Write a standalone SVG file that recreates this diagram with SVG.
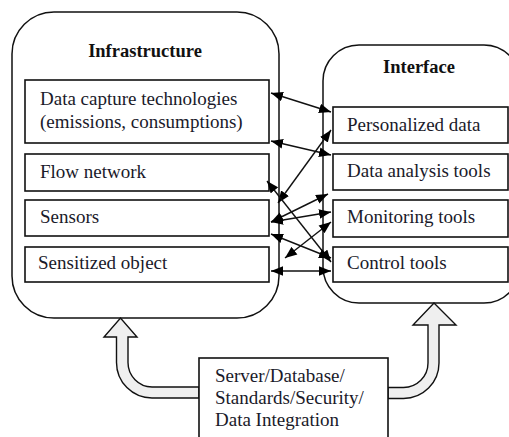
<svg xmlns="http://www.w3.org/2000/svg" width="509" height="437" viewBox="0 0 509 437">
<defs>
<style>
.cont{fill:#fff;stroke:#111;stroke-width:1.5}
.box{fill:#fff;stroke:#111;stroke-width:1.6}
.t{font-family:"Liberation Serif","Times New Roman",serif;font-size:19px;fill:#1a1a2a}
.h{font-family:"Liberation Serif","Times New Roman",serif;font-size:18.5px;font-weight:bold;fill:#111}
.c{stroke:#111;stroke-width:1.4;fill:none;marker-start:url(#ah);marker-end:url(#ah)}
.big{fill:#efefef;stroke:#111;stroke-width:1.4;stroke-linejoin:miter}
</style>
<marker id="ah" viewBox="0 0 10 8" refX="10" refY="4" markerWidth="12" markerHeight="10" markerUnits="userSpaceOnUse" orient="auto-start-reverse">
<path d="M0,0 L10,4 L0,8 Z" fill="#000"/>
</marker>
</defs>
<rect width="509" height="437" fill="#fff"/>
<g id="infrastructure">
<rect class="cont" x="12" y="12" width="267" height="306" rx="42"/>
<text class="h" x="145" y="57" text-anchor="middle">Infrastructure</text>
</g>
<g id="interface">
<rect class="cont" x="323" y="45" width="197" height="258" rx="36"/>
<text class="h" x="419" y="73" text-anchor="middle">Interface</text>
</g>
<g id="data-capture">
<rect class="box" x="25" y="80" width="244" height="63"/>
<text class="t" x="40" y="105">Data capture technologies</text>
<text class="t" x="40" y="128">(emissions, consumptions)</text>
</g>
<g id="flow-network">
<rect class="box" x="25" y="154" width="244" height="37"/>
<text class="t" x="40" y="178">Flow network</text>
</g>
<g id="sensors">
<rect class="box" x="25" y="200" width="244" height="36"/>
<text class="t" x="40" y="223">Sensors</text>
</g>
<g id="sensitized-object">
<rect class="box" x="25" y="247" width="244" height="35"/>
<text class="t" x="38" y="269">Sensitized object</text>
</g>
<g id="personalized-data">
<rect class="box" x="333" y="107" width="175" height="36"/>
<text class="t" x="347" y="131">Personalized data</text>
</g>
<g id="data-analysis">
<rect class="box" x="333" y="154" width="175" height="36"/>
<text class="t" x="347" y="177">Data analysis tools</text>
</g>
<g id="monitoring">
<rect class="box" x="333" y="200" width="175" height="37"/>
<text class="t" x="347" y="223">Monitoring tools</text>
</g>
<g id="control">
<rect class="box" x="333" y="247" width="175" height="35"/>
<text class="t" x="347" y="269">Control tools</text>
</g>
<g id="connectors">
<line class="c" x1="271" y1="93" x2="331" y2="112"/>
<line class="c" x1="271" y1="141" x2="331" y2="155"/>
<line class="c" x1="278" y1="203" x2="331" y2="130"/>
<line class="c" x1="267" y1="181" x2="331" y2="262"/>
<line class="c" x1="271" y1="222" x2="328" y2="194"/>
<line class="c" x1="271" y1="222" x2="331" y2="212"/>
<line class="c" x1="271" y1="234" x2="331" y2="258"/>
<line class="c" x1="285" y1="258" x2="331" y2="222"/>
<line class="c" x1="271" y1="271" x2="331" y2="271"/>
</g>
<g id="to-infrastructure">
<path class="big" d="M199 398 H152 A35.5 35.5 0 0 1 116.5 362.5 V337 H104 L120.5 318 L137 337 H128 V362.5 A24.5 24.5 0 0 0 152 387 H199 Z"/>
</g>
<g id="to-interface">
<path class="big" d="M388 398.5 H403.5 A35.5 35.5 0 0 0 439 363 V325 H456 L434 303 L413 325 H428 V363 A24.5 24.5 0 0 1 403.5 387.5 H388 Z"/>
</g>
<g id="server">
<rect class="box" x="199" y="358" width="189" height="90"/>
<text class="t" x="215" y="382">Server/Database/</text>
<text class="t" x="215" y="404">Standards/Security/</text>
<text class="t" x="215" y="426">Data Integration</text>
</g>
</svg>
